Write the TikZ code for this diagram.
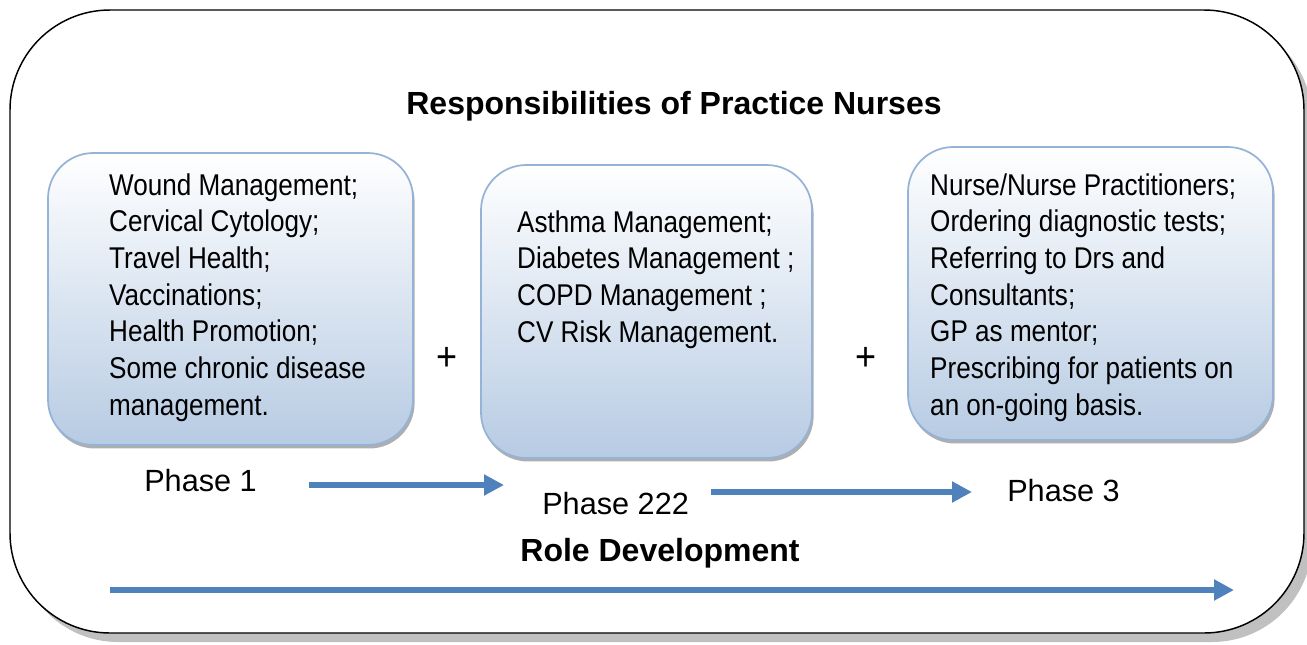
\documentclass[tikz,border=0pt]{standalone}
\usepackage{fontspec}
\setmainfont{Liberation Sans}
\usetikzlibrary{arrows.meta,shadows}
\definecolor{boxline}{HTML}{95B3D7}
\definecolor{boxbot}{HTML}{B7CBE3}
\definecolor{arrowblue}{HTML}{4F81BD}
\definecolor{shadowgray}{HTML}{C0C0C0}
\definecolor{innershadow}{HTML}{9A9A9A}
\tikzset{
  outerbox/.style={draw=black, line width=1.1pt, fill=white, rounded corners=75pt,
    minimum width=970.5pt, minimum height=467.25pt, inner sep=0pt},
  outershadow/.style={fill=shadowgray, draw=none, rounded corners=75pt,
    minimum width=970.5pt, minimum height=467.25pt, inner sep=0pt},
  phasebox/.style={draw=boxline, line width=1.3pt, rounded corners=34pt,
    top color=white, bottom color=boxbot, inner sep=0pt,
    drop shadow={shadow xshift=1.2pt, shadow yshift=-2.6pt, fill=innershadow, opacity=0.8}},
  body/.style={font=\fontsize{22.5}{27.5}\selectfont, align=left, inner sep=0pt,
    anchor=north west, xscale=0.87, transform shape},
  phaselabel/.style={font=\fontsize{23}{27}\selectfont, anchor=base west, inner sep=0pt},
  heading/.style={font=\bfseries\fontsize{24}{28}\selectfont, anchor=base, inner sep=0pt},
  plus/.style={font=\fontsize{30}{34}\selectfont, inner sep=0pt, xscale=0.9, transform shape},
  flow/.style={draw=arrowblue, line width=4.5pt, -{Triangle[length=15pt,width=15pt]}}
}
\begin{document}
\begin{tikzpicture}[x=0.75pt,y=-0.75pt]
\useasboundingbox (0,0) rectangle (1307,644);
% outer frame
\node[outershadow] (frameshadow) at (665,330.5) {};
\node[outerbox] (frame) at (657,321.5) {};
% title
\node[heading] (title) at (674,114) {Responsibilities of Practice Nurses};
% phase boxes
\node[phasebox, minimum width=273.75pt, minimum height=219pt] (box1) at (230.5,299) {};
\node[phasebox, minimum width=248.25pt, minimum height=219.75pt] (box2) at (646.5,311.5) {};
\node[phasebox, minimum width=273.75pt, minimum height=219.75pt] (box3) at (1090.5,293.5) {};
% box texts
\node[body] (t1) at (109,173.1) {Wound Management;\\Cervical Cytology;\\Travel Health;\\Vaccinations;\\Health Promotion;\\Some chronic disease\\management.};
\node[body] (t2) at (517,210.1) {Asthma Management;\\Diabetes Management ;\\COPD Management ;\\CV Risk Management.};
\node[body] (t3) at (930,173.1) {Nurse/Nurse Practitioners;\\Ordering diagnostic tests;\\Referring to Drs and\\Consultants;\\GP as mentor;\\Prescribing for patients on\\an on-going basis.};
% plus signs
\node[plus] (plus1) at (447,359) {+};
\node[plus] (plus2) at (866,359) {+};
% phase labels
\node[phaselabel] (p1) at (144,491) {Phase 1};
\node[phaselabel] (p2) at (542,514) {Phase 222};
\node[phaselabel] (p3) at (1007,501) {Phase 3};
\node[heading] (role) at (660,561) {Role Development};
% arrows
\coordinate (a1s) at (309,485);
\coordinate (a1e) at (504,485);
\coordinate (a2s) at (711,492);
\coordinate (a2e) at (972,492);
\coordinate (a3s) at (110,590);
\coordinate (a3e) at (1234,590);
\draw[flow] (a1s) -- (a1e);
\draw[flow] (a2s) -- (a2e);
\draw[flow] (a3s) -- (a3e);
\end{tikzpicture}
\end{document}
